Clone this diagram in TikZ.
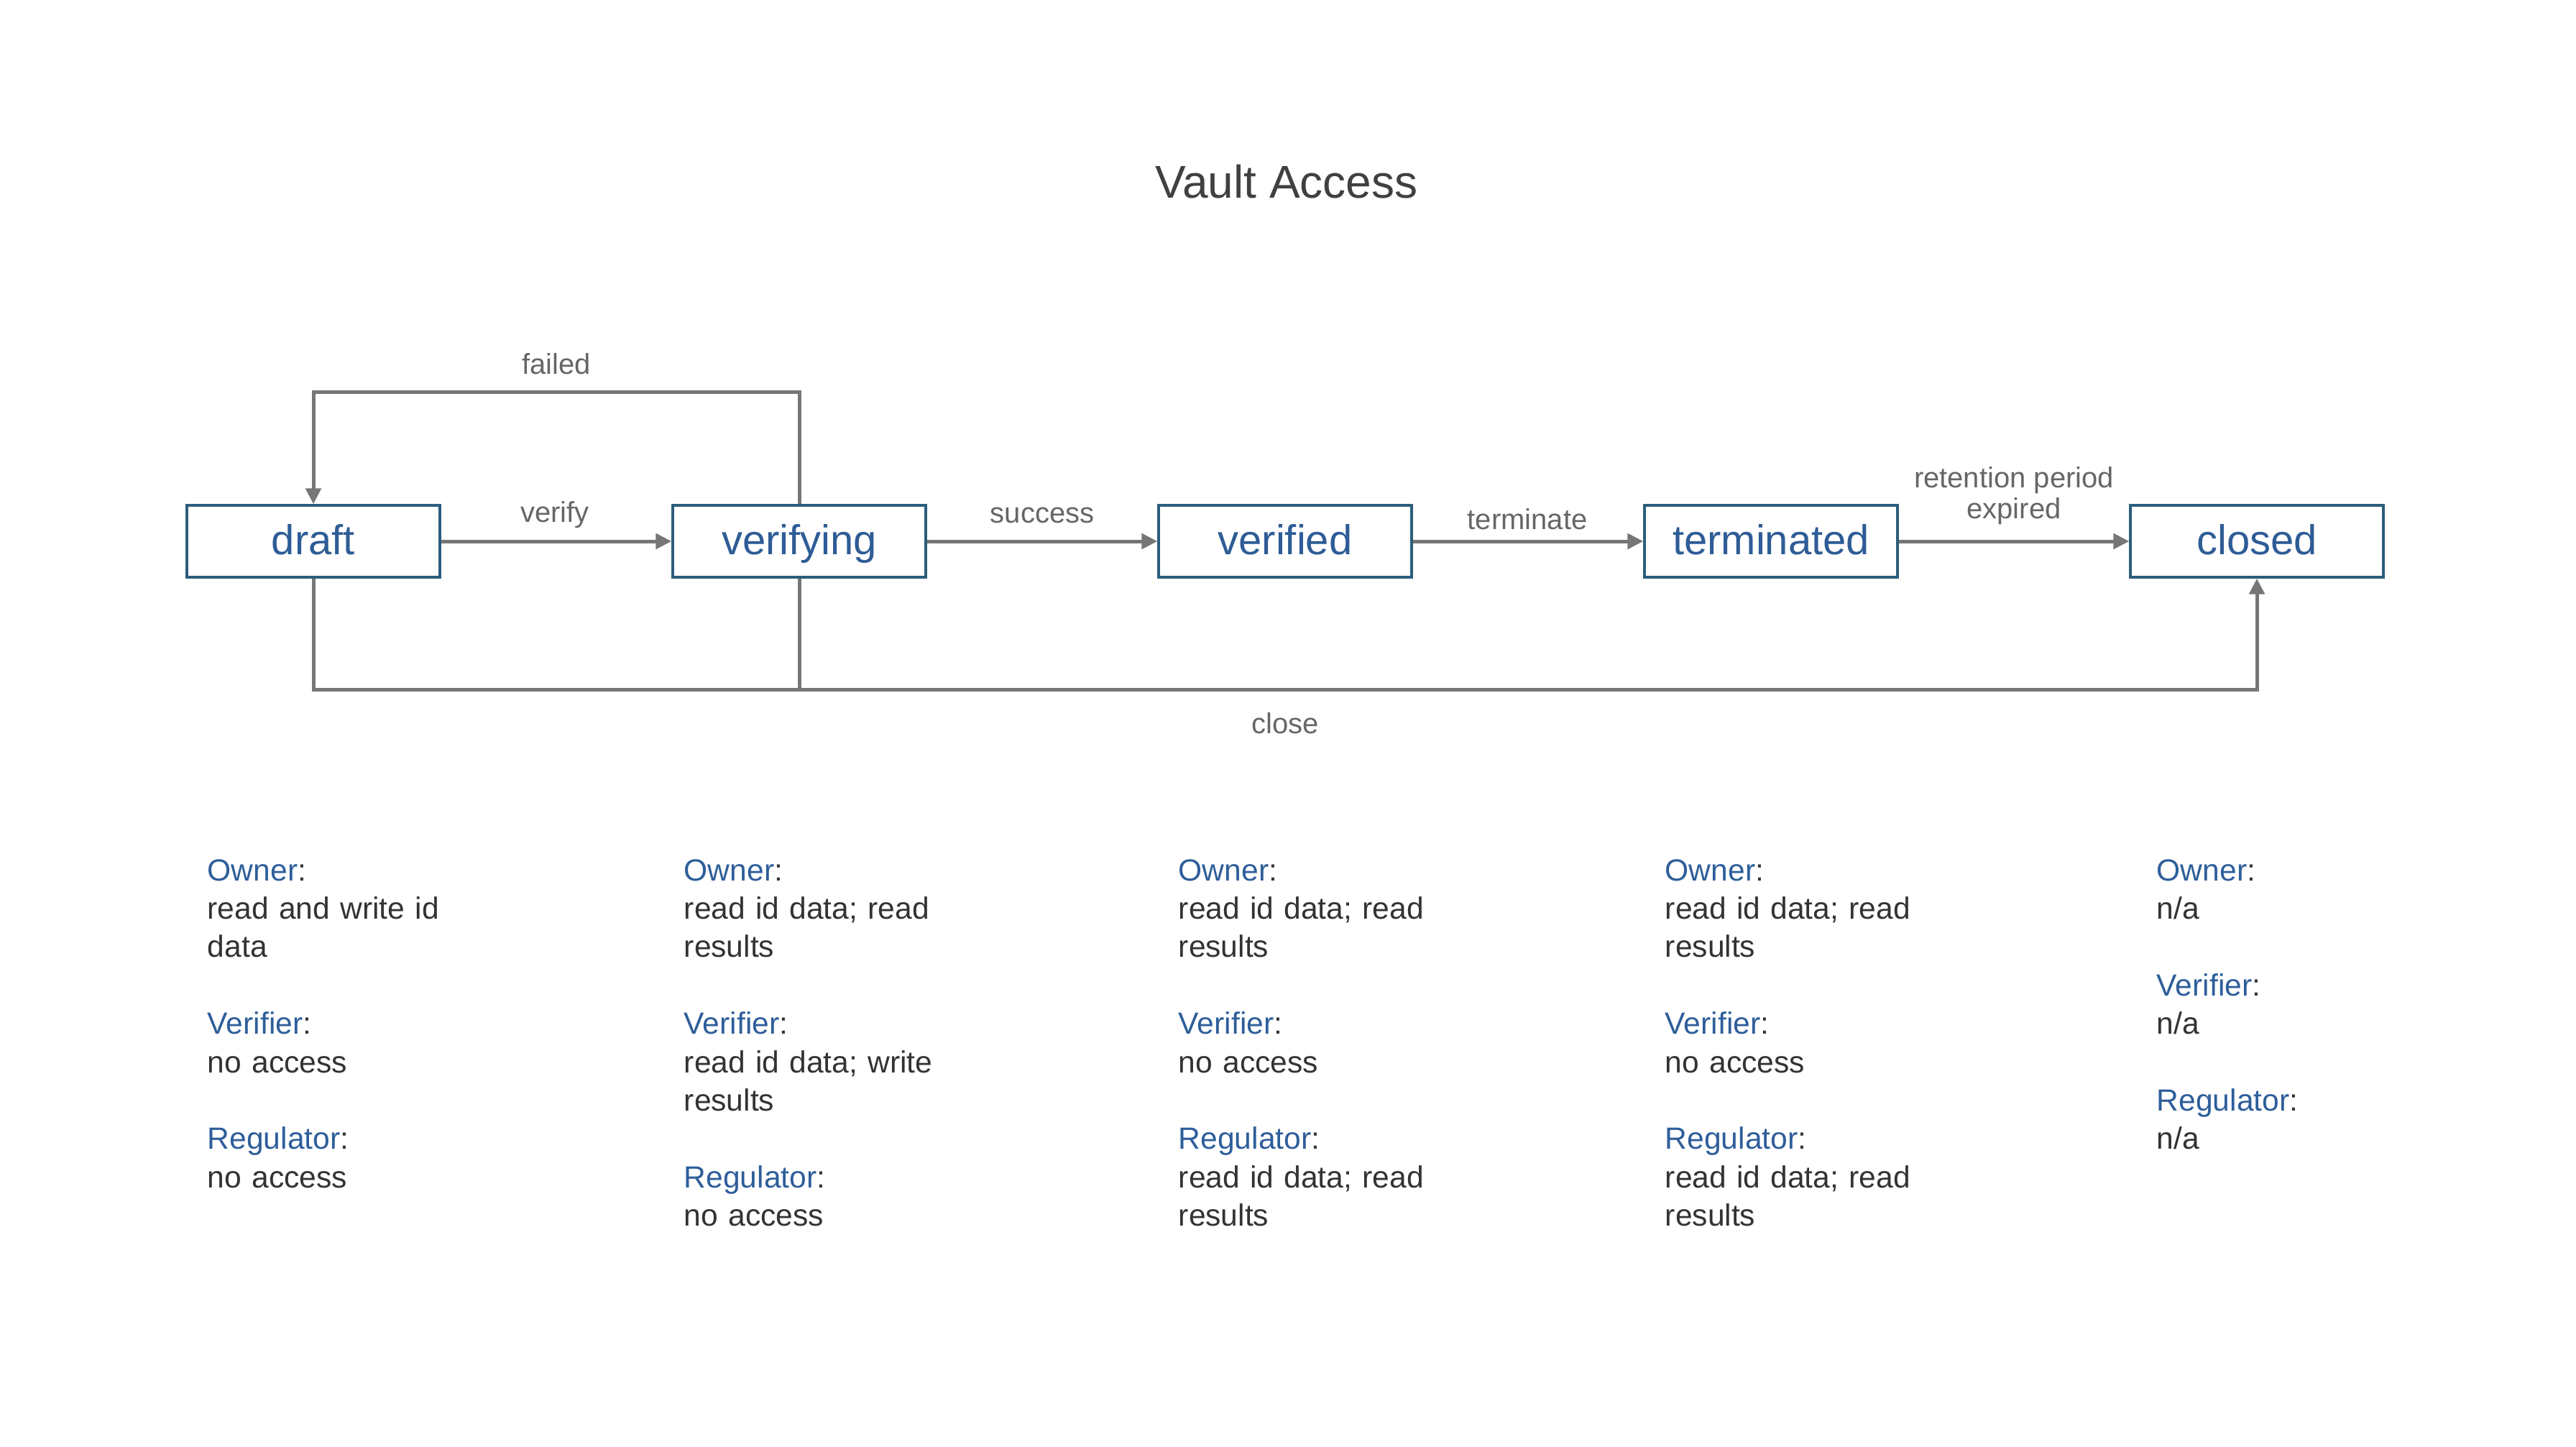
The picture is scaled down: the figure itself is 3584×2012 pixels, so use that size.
\documentclass[tikz,border=0pt]{standalone}
\usepackage{fontspec}
\setmainfont{Liberation Sans}
\usetikzlibrary{arrows.meta}
\definecolor{boxline}{RGB}{44,93,124}
\definecolor{boxtext}{RGB}{46,92,150}
\definecolor{roleblue}{RGB}{46,94,154}
\definecolor{bodytext}{RGB}{51,51,51}
\definecolor{labeltext}{RGB}{102,102,102}
\definecolor{titletext}{RGB}{64,64,64}
\definecolor{arrowgray}{RGB}{118,118,118}
\tikzset{
  statebox/.style={draw=boxline, line width=0.85pt, fill=white, minimum width=88pt, minimum height=25pt, inner sep=0pt, text height=11pt, text depth=2pt, text=boxtext, font=\fontsize{14.5}{17}\selectfont},
  edgelabel/.style={text=labeltext, font=\fontsize{10}{12}\selectfont, inner sep=0pt, align=center},
  conn/.style={draw=arrowgray, line width=1.25pt},
  arr/.style={conn, -{Triangle[length=5.5pt,width=5.3pt]}},
  rolecol/.style={anchor=base west, inner sep=0pt, text width=150pt, align=left, text=bodytext, font=\fontsize{10.65}{13.35}\selectfont},
}
\newcommand{\role}[1]{\textcolor{roleblue}{#1}:}
\begin{document}
\begin{tikzpicture}[x=0.25pt,y=-0.25pt]
\useasboundingbox (0,0) rectangle (3584,2012);
\node[text=titletext, font=\fontsize{16}{19}\selectfont, anchor=base] (title) at (1790,276) {Vault Access};

\node[statebox] (draft) at (436,753) {draft};
\node[statebox] (verifying) at (1112,753) {verifying};
\node[statebox] (verified) at (1788,753) {verified};
\node[statebox] (terminated) at (2464,753) {terminated};
\node[statebox] (closed) at (3140,753) {closed};

\coordinate (ftop) at (436,545);
\coordinate (cbot) at (436,959);

\draw[arr] (draft) -- (verifying);
\draw[arr] (verifying) -- (verified);
\draw[arr] (verified) -- (terminated);
\draw[arr] (terminated) -- (closed);
\draw[arr] (verifying.north) |- (ftop) -- (draft.north);
\draw[arr] (draft.south) |- (closed.south |- cbot) -- (closed.south);
\draw[conn] (verifying.south) -- (verifying.south |- cbot);

\node[edgelabel] (lfailed) at (774,506) {failed};
\node[edgelabel] (lverify) at (772,716) {verify};
\node[edgelabel] (lsuccess) at (1450,717) {success};
\node[edgelabel] (lterminate) at (2125,722) {terminate};
\node[edgelabel] (lretention) at (2802,690) {retention period\\[-1.2pt]expired};
\node[edgelabel] (lclose) at (1788,1006) {close};

\node[rolecol] (c1) at (288,1225) {\role{Owner}\\read and write id\\data\\~\\\role{Verifier}\\no access\\~\\\role{Regulator}\\no access};
\node[rolecol] (c2) at (951,1225) {\role{Owner}\\read id data; read\\results\\~\\\role{Verifier}\\read id data; write\\results\\~\\\role{Regulator}\\no access};
\node[rolecol] (c3) at (1639,1225) {\role{Owner}\\read id data; read\\results\\~\\\role{Verifier}\\no access\\~\\\role{Regulator}\\read id data; read\\results};
\node[rolecol] (c4) at (2316,1225) {\role{Owner}\\read id data; read\\results\\~\\\role{Verifier}\\no access\\~\\\role{Regulator}\\read id data; read\\results};
\node[rolecol] (c5) at (3000,1225) {\role{Owner}\\n/a\\~\\\role{Verifier}\\n/a\\~\\\role{Regulator}\\n/a};
\end{tikzpicture}
\end{document}
